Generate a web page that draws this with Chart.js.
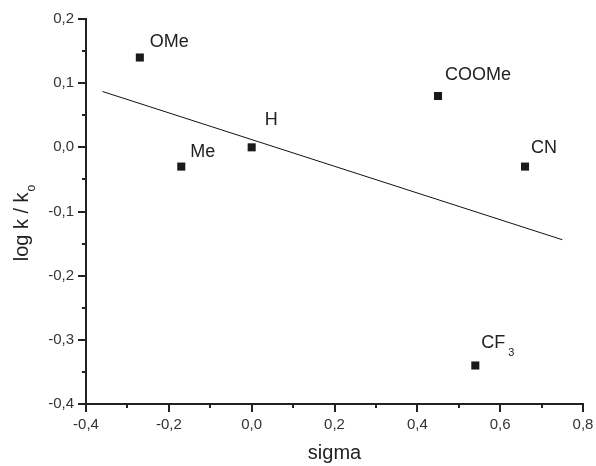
<!DOCTYPE html>
<html>
<head>
<meta charset="utf-8">
<script src="https://cdn.jsdelivr.net/npm/chart.js@4"></script>
<style>
    html, body { margin: 0; padding: 0; background: #fff; }
    #wrap { width: 596px; height: 466px; position: relative; }
</style>
</head>
<body>
<div id="wrap"><canvas id="sigmaChart"></canvas></div>
<script>
// substituent data (Hammett plot)
const substituents = ["OMe", "Me", "H", "COOMe", "CN", "CF3"];
const sigmaValues = [-0.27, -0.17, 0.00, 0.45, 0.66, 0.54];
const logKValues = [0.14, -0.03, 0.00, 0.08, -0.03, -0.34];

// fitted straight line, two ends
const fitSigma = [-0.36, 0.75];
const fitLogK = [0.087, -0.144];

// axis ranges and tick steps
const xRange = [-0.4, 0.8];
const yRange = [-0.4, 0.2];
const xStep = 0.1;   // labelled every second tick
const yStep = 0.05;  // labelled every second tick

// where each label sits relative to its marker (px)
const labelShift = [[10, -11], [9, -10], [13, -22], [7, -16], [6, -14], [6, -18]];

const FONT = '"Liberation Sans", Arial, sans-serif';
const INK = "#222";

function commaLabel(v) {
    if (Math.abs(v) < 1e-9) v = 0;
    return v.toFixed(1).replace(".", ",");
}

function isMajor(v, step) {
    return Math.round(v / step) % 2 === 0;
}

// outward major / minor tick marks
const tickMarks = {
    id: "tickMarks",
    afterDraw(chart) {
        const ctx = chart.ctx;
        const xs = chart.scales.x, ys = chart.scales.y;
        ctx.save();
        ctx.strokeStyle = INK;
        ctx.lineWidth = 2;
        ctx.beginPath();
        xs.ticks.forEach(t => {
            const px = Math.round(xs.getPixelForValue(t.value));
            const len = isMajor(t.value, xStep) ? 8 : 4;
            ctx.moveTo(px, ys.bottom);
            ctx.lineTo(px, ys.bottom + len);
        });
        ys.ticks.forEach(t => {
            const py = Math.round(ys.getPixelForValue(t.value));
            const len = isMajor(t.value, yStep) ? 8 : 4;
            ctx.moveTo(xs.left, py);
            ctx.lineTo(xs.left - len, py);
        });
        ctx.stroke();
        ctx.restore();
    }
};

// point names and the rotated y title (both need subscripts)
const annotate = {
    id: "annotate",
    afterDatasetsDraw(chart) {
        const ctx = chart.ctx;
        const xs = chart.scales.x, ys = chart.scales.y;
        ctx.save();
        ctx.fillStyle = INK;
        ctx.textAlign = "left";
        ctx.textBaseline = "alphabetic";
        substituents.forEach((name, i) => {
            const px = xs.getPixelForValue(sigmaValues[i]) + labelShift[i][0];
            const py = ys.getPixelForValue(logKValues[i]) + labelShift[i][1];
            const m = name.match(/^(\D+)(\d+)$/);
            ctx.font = "18px " + FONT;
            if (m) {
                ctx.fillText(m[1], px, py);
                const w = ctx.measureText(m[1]).width;
                ctx.font = "11px " + FONT;
                ctx.fillText(m[2], px + w + 3, py + 8);
            } else {
                ctx.fillText(name, px, py);
            }
        });

        // y axis title: log k / k_o
        const main = "log k / k", sub = "o";
        ctx.font = "20px " + FONT;
        const mw = ctx.measureText(main).width;
        ctx.font = "12px " + FONT;
        const sw = ctx.measureText(sub).width;
        const total = mw + 1 + sw;
        ctx.translate(28, 223);
        ctx.rotate(-Math.PI / 2);
        ctx.font = "20px " + FONT;
        ctx.fillText(main, -total / 2, 0);
        ctx.font = "12px " + FONT;
        ctx.fillText(sub, -total / 2 + mw + 1, 7);
        ctx.restore();
    }
};

document.addEventListener("DOMContentLoaded", function() {
    const ctx = document.getElementById("sigmaChart").getContext("2d");

    const points = sigmaValues.map((s, i) => ({ x: s, y: logKValues[i] }));
    const fitLine = fitSigma.map((s, i) => ({ x: s, y: fitLogK[i] }));

    new Chart(ctx, {
        type: "scatter",
        data: {
            datasets: [
                {
                    label: "log k / ko",
                    data: points,
                    pointStyle: "rect",
                    pointRadius: 5.7,
                    pointBackgroundColor: "#1a1a1a",
                    pointBorderWidth: 0,
                    showLine: false,
                },
                {
                    label: "fit",
                    type: "line",
                    data: fitLine,
                    borderColor: "#111",
                    borderWidth: 1,
                    pointRadius: 0,
                    fill: false,
                    tension: 0,
                },
            ],
        },
        options: {
            responsive: true,
            maintainAspectRatio: false,
            animation: false,
            layout: { padding: { top: 19, right: 13, left: 0, bottom: 0 } },
            plugins: {
                legend: { display: false },
                tooltip: { enabled: false },
            },
            scales: {
                x: {
                    type: "linear",
                    min: xRange[0],
                    max: xRange[1],
                    grid: { display: false, drawTicks: false },
                    border: { display: true, color: INK, width: 2 },
                    ticks: {
                        stepSize: xStep,
                        autoSkip: false,
                        maxRotation: 0,
                        padding: 12,
                        color: "#333",
                        font: { size: 15, family: FONT },
                        callback: v => isMajor(v, xStep) ? commaLabel(v) : "",
                    },
                    title: {
                        display: true,
                        text: "sigma",
                        color: INK,
                        font: { size: 20, family: FONT },
                        padding: { top: 0, bottom: 1 },
                    },
                    afterFit: s => {
                        s.height = 62;
                        s.paddingLeft = 0;
                        s.paddingRight = 0;
                    },
                },
                y: {
                    type: "linear",
                    min: yRange[0],
                    max: yRange[1],
                    grid: { display: false, drawTicks: false },
                    border: { display: true, color: INK, width: 2 },
                    ticks: {
                        stepSize: yStep,
                        autoSkip: false,
                        padding: 12,
                        color: "#333",
                        font: { size: 15, family: FONT },
                        callback: v => isMajor(v, yStep) ? commaLabel(v) : "",
                    },
                    afterFit: s => {
                        s.width = 86;
                        s.paddingTop = 0;
                        s.paddingBottom = 0;
                    },
                },
            },
        },
        plugins: [tickMarks, annotate],
    });
});
</script>
</body>
</html>
